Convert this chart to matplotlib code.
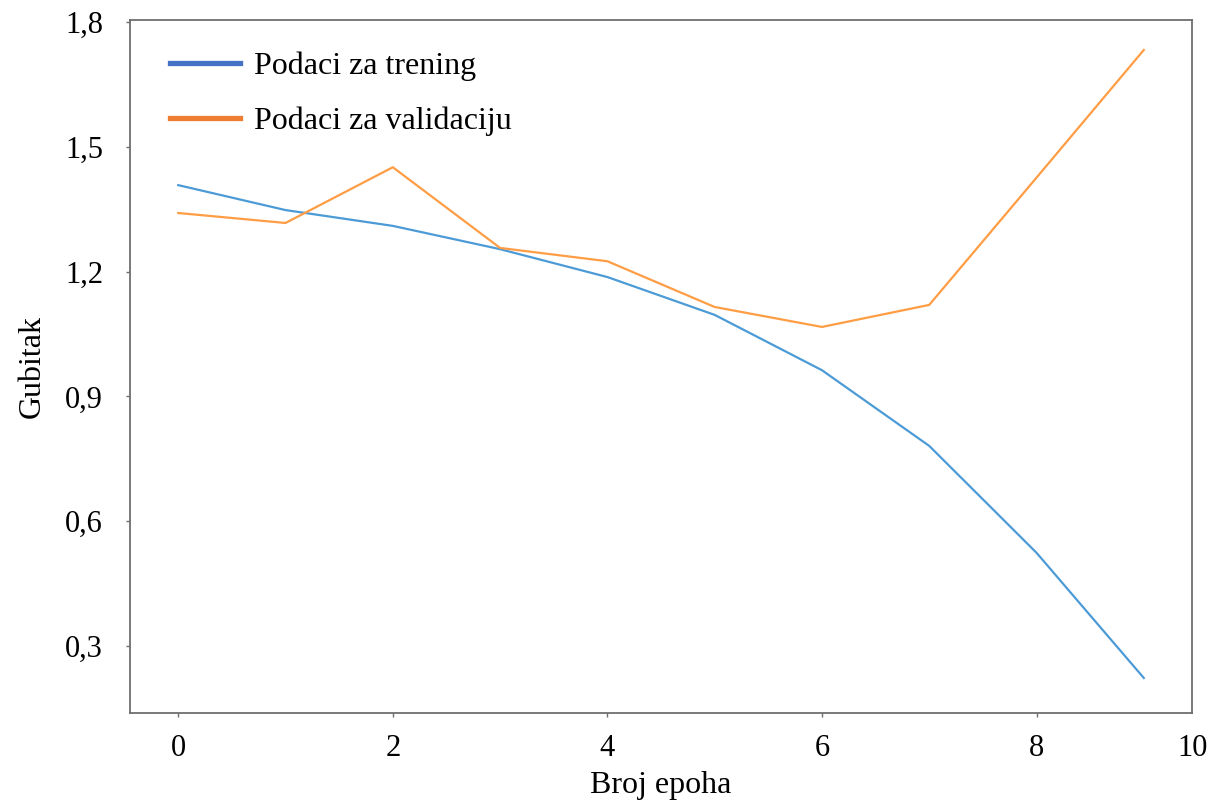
import matplotlib.pyplot as plt
from matplotlib.lines import Line2D

epochs = [0, 1, 2, 3, 4, 5, 6, 7, 8, 9]
train_loss = [1.408, 1.348, 1.310, 1.254, 1.187, 1.096, 0.963, 0.781, 0.524, 0.223]
val_loss = [1.341, 1.317, 1.451, 1.257, 1.225, 1.115, 1.067, 1.120, 1.426, 1.733]
y_ticks = [0.3, 0.6, 0.9, 1.2, 1.5, 1.8]
x_ticks = [0, 2, 4, 6, 8]

plt.rcParams["font.family"] = ["Liberation Serif", "DejaVu Serif"]
plt.rcParams["font.size"] = 23

fig = plt.figure(figsize=(12.09, 8.01), dpi=100)
ax = fig.add_axes([0.1075, 0.11, 0.8785, 0.865])

ax.plot(epochs, train_loss, color="#4c9bd6", lw=1.6)
ax.plot(epochs, val_loss, color="#ff9d45", lw=1.6)

ax.set_ylim(0.139, 1.805)
ax.set_yticks(y_ticks)
ax.set_yticklabels([f"{v:.1f}".replace(".", ",") for v in y_ticks])

# the original puts a "10" label at the right edge with no tick mark
xmax = ax.get_xlim()[1]
ax.set_xticks(x_ticks + [xmax])
ax.set_xticklabels([str(v) for v in x_ticks] + ["10"])
ax.xaxis.get_major_ticks()[-1].tick1line.set_visible(False)

for s in ax.spines.values():
    s.set_color("#6e6e6e")
    s.set_linewidth(1.3)
ax.tick_params(length=3, width=1, color="#6e6e6e", labelsize=22)
ax.tick_params(axis="y", pad=16.5)
ax.tick_params(axis="x", pad=12)

ax.set_xlabel("Broj epoha", labelpad=6)
ax.set_ylabel("Gubitak", labelpad=13)

handles = [
    Line2D([], [], color="#4472c4", lw=3.8),
    Line2D([], [], color="#ed7d31", lw=3.8),
]
ax.legend(handles, ["Podaci za trening", "Podaci za validaciju"],
          loc="upper left", frameon=False, handlelength=2.2,
          handletextpad=0.44, labelspacing=0.8, borderpad=0,
          borderaxespad=0, bbox_to_anchor=(0.0377, 0.955))

fig.savefig("out.png", dpi=100)
